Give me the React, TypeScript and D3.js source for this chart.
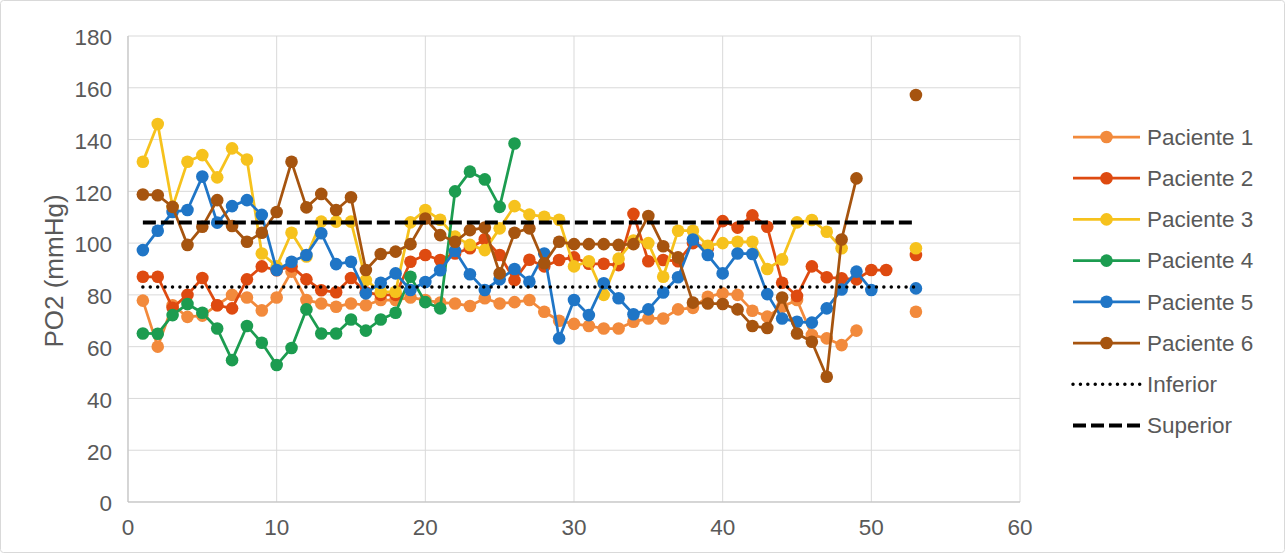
import React from "react";
import * as d3 from "d3";

// Sample number (x) for each measurement
const MUESTRAS: number[] = d3.range(1, 54);

// PO2 readings per patient, one entry per sample number; null = no measurement
const paciente1: (number | null)[] = [
  77.8, 60, 76, 71.5, 72, 76, 80, 79, 74, 79,
  89, 78, 76.7, 75.4, 76.7, 76, 78, 78, 79, 78,
  77, 76.7, 75.7, 78.7, 76.7, 77.2, 78, 73.5, 70, 68.8,
  68, 67, 67, 69.6, 70.9, 70.9, 74.4, 75, 79.3, 80.6,
  80, 73.9, 71.6, 75.4, 78, 64.5, 63.2, 60.6, 66.2, null,
  null, null, 73.5,
];
const paciente2: (number | null)[] = [
  87, 87, 75, 80, 86.5, 76, 74.8, 86, 91, 89.5,
  91, 86, 81.8, 81, 86.5, 81, 80, 80, 92.8, 95.4,
  93.5, 96, 98, 101.5, 95.4, 85.7, 93.6, 91, 93.5, 94.5,
  92, 92, 91.5, 111.3, 93, 93.5, 93, 100, 98, 108.5,
  106, 110.7, 106.3, 84.7, 79.6, 91, 86.8, 86.4, 86, 89.6,
  89.6, null, 95.4,
];
const paciente3: (number | null)[] = [
  131.4, 146, 114, 131.4, 134, 125.4, 136.6, 132.3, 96, 91,
  104, 94.8, 108.3, 108.3, 108.3, 85.7, 81.2, 81.2, 108, 112.8,
  109, 102.5, 99.3, 97.3, 105.7, 114.3, 111, 110.2, 109, 91,
  93, 80, 94, 101, 100, 87, 104.8, 104.8, 99, 100,
  100.5, 100.5, 90, 93.7, 108, 108.9, 104.4, 98, null, null,
  null, null, 98,
];
const paciente4: (number | null)[] = [
  65.1, 65, 72.2, 76.5, 73.1, 67, 54.8, 68, 61.5, 52.9,
  59.5, 74.4, 65.1, 65.1, 70.5, 66.2, 70.5, 73.1, 87, 77.2,
  74.8, 120, 127.6, 124.6, 114, 138.5, null, null, null, null,
  null, null, null, null, null, null, null, null, null, null,
  null, null, null, null, null, null, null, null, null, null,
  null, null, null,
];
const paciente5: (number | null)[] = [
  97.3, 104.8, 112, 112.8, 125.7, 107.9, 114.3, 116.6, 110.9, 89.6,
  92.8, 95.4, 103.8, 91.9, 92.8, 80.6, 84.7, 88.3, 81.9, 85,
  89.5, 97, 88, 81.9, 86, 90, 85.1, 96, 63.2, 78,
  72.2, 84.5, 78.7, 72.5, 74.4, 80.9, 86.8, 101.4, 95.4, 88.3,
  96, 95.8, 80.3, 70.9, 69.6, 69.3, 74.8, 82.1, 89, 81.9,
  null, null, 82.5,
];
const paciente6: (number | null)[] = [
  118.8, 118.5, 114, 99.3, 106.3, 116.6, 106.6, 100.5, 104, 112,
  131.4, 113.8, 119, 112.8, 117.7, 89.6, 95.8, 96.7, 99.6, 109.5,
  103.1, 100.5, 105, 106, 88.3, 104, 105.7, 92.2, 100.5, 99.6,
  99.6, 99.6, 99.3, 99.6, 110.5, 98.8, 94.5, 77, 76.7, 76.5,
  74.4, 68, 67.2, 79, 65.1, 61.9, 48.4, 101.4, 125, null,
  null, null, 157.2,
];

// Normal PO2 reference range (mmHg)
const LIMITE_INFERIOR = 83;
const LIMITE_SUPERIOR = 108;
const LIMITE_DESDE = 1;
const LIMITE_HASTA = 53;

const NOMBRES = ["Paciente 1", "Paciente 2", "Paciente 3", "Paciente 4", "Paciente 5", "Paciente 6"];
const COLORES = ["#F28A3C", "#DE4A10", "#F6C21D", "#1C9C50", "#1F75C6", "#A6540F"];
const SERIES = [paciente1, paciente2, paciente3, paciente4, paciente5, paciente6];

const X_TICKS = [0, 10, 20, 30, 40, 50, 60];
const Y_TICKS = [0, 20, 40, 60, 80, 100, 120, 140, 160, 180];

const W = 1285;
const H = 553;
const PLOT = { left: 128, right: 1020, top: 36, bottom: 502 };
const FONT = "'Liberation Sans', Arial, sans-serif";
const TEXT = "#595959";
const GRID = "#D9D9D9";
const TICK_SIZE = 22.5;

export default function App() {
  const x = d3.scaleLinear().domain([0, 60]).range([PLOT.left, PLOT.right]);
  const y = d3.scaleLinear().domain([0, 180]).range([PLOT.bottom, PLOT.top]);

  type Pt = { n: number; v: number | null };
  const line = d3
    .line<Pt>()
    .defined((d) => d.v != null)
    .x((d) => x(d.n))
    .y((d) => y(d.v as number));

  const series = SERIES.map((vals) => MUESTRAS.map((n, i) => ({ n, v: vals[i] ?? null })));

  const legendX0 = 1073;
  const legendX1 = 1140;
  const legendY = (i: number) => 137 + i * 41.2;

  return (
    <svg
      width={W}
      height={H}
      style={{ position: "absolute", left: 0, top: 0, background: "#fff" }}
      fontFamily={FONT}
    >
      <rect x={0.5} y={0.5} width={W - 1} height={H - 1} rx={3} fill="#fff" stroke={GRID} />

      {/* grid */}
      {Y_TICKS.map((t) => (
        <line key={"gy" + t} x1={PLOT.left} x2={PLOT.right} y1={y(t)} y2={y(t)} stroke={GRID} strokeWidth={1} />
      ))}
      {X_TICKS.map((t) => (
        <line key={"gx" + t} x1={x(t)} x2={x(t)} y1={PLOT.top} y2={PLOT.bottom} stroke={GRID} strokeWidth={1} />
      ))}
      <line x1={PLOT.left} x2={PLOT.left} y1={PLOT.top} y2={PLOT.bottom} stroke="#BFBFBF" />
      <line x1={PLOT.left} x2={PLOT.right} y1={PLOT.bottom} y2={PLOT.bottom} stroke="#BFBFBF" />

      {/* tick labels */}
      {Y_TICKS.map((t) => (
        <text key={"ty" + t} x={PLOT.left - 16} y={y(t) + 1.5} dy="0.35em" textAnchor="end" fontSize={TICK_SIZE} fill={TEXT}>
          {t}
        </text>
      ))}
      {X_TICKS.map((t) => (
        <text key={"tx" + t} x={x(t)} y={PLOT.bottom + 25} dy="0.35em" textAnchor="middle" fontSize={TICK_SIZE} fill={TEXT}>
          {t}
        </text>
      ))}
      <text
        transform={`translate(63, ${(PLOT.top + PLOT.bottom) / 2 + 2}) rotate(-90)`}
        textAnchor="middle"
        fontSize={26}
        fill={TEXT}
      >
        PO2 (mmHg)
      </text>

      {/* patient series */}
      {series.map((s, i) => (
        <g key={"s" + i}>
          <path d={line(s) || ""} fill="none" stroke={COLORES[i]} strokeWidth={2.75} strokeLinejoin="round" />
          {s
            .filter((d) => d.v != null)
            .map((d) => (
              <circle key={d.n} cx={x(d.n)} cy={y(d.v as number)} r={6.3} fill={COLORES[i]} />
            ))}
        </g>
      ))}

      {/* reference limits */}
      <line
        x1={x(LIMITE_DESDE)}
        x2={x(LIMITE_HASTA)}
        y1={y(LIMITE_INFERIOR)}
        y2={y(LIMITE_INFERIOR)}
        stroke="#000"
        strokeWidth={3.5}
        strokeDasharray="0.01 7.4"
        strokeLinecap="round"
      />
      <line
        x1={x(LIMITE_DESDE)}
        x2={x(LIMITE_HASTA)}
        y1={y(LIMITE_SUPERIOR)}
        y2={y(LIMITE_SUPERIOR)}
        stroke="#000"
        strokeWidth={4}
        strokeDasharray="13 5"
      />

      {/* legend */}
      {NOMBRES.map((name, i) => (
        <g key={"l" + i}>
          <line x1={legendX0} x2={legendX1} y1={legendY(i)} y2={legendY(i)} stroke={COLORES[i]} strokeWidth={2.75} />
          <circle cx={(legendX0 + legendX1) / 2} cy={legendY(i)} r={6.3} fill={COLORES[i]} />
          <text x={1147} y={legendY(i)} dy="0.35em" fontSize={TICK_SIZE} fill={TEXT}>
            {name}
          </text>
        </g>
      ))}
      <line
        x1={legendX0}
        x2={legendX1}
        y1={legendY(6)}
        y2={legendY(6)}
        stroke="#000"
        strokeWidth={3.5}
        strokeDasharray="0.01 7.4"
        strokeLinecap="round"
      />
      <text x={1147} y={legendY(6)} dy="0.35em" fontSize={TICK_SIZE} fill={TEXT}>
        Inferior
      </text>
      <line
        x1={legendX0}
        x2={legendX1}
        y1={legendY(7)}
        y2={legendY(7)}
        stroke="#000"
        strokeWidth={4}
        strokeDasharray="13 5"
      />
      <text x={1147} y={legendY(7)} dy="0.35em" fontSize={TICK_SIZE} fill={TEXT}>
        Superior
      </text>
    </svg>
  );
}
